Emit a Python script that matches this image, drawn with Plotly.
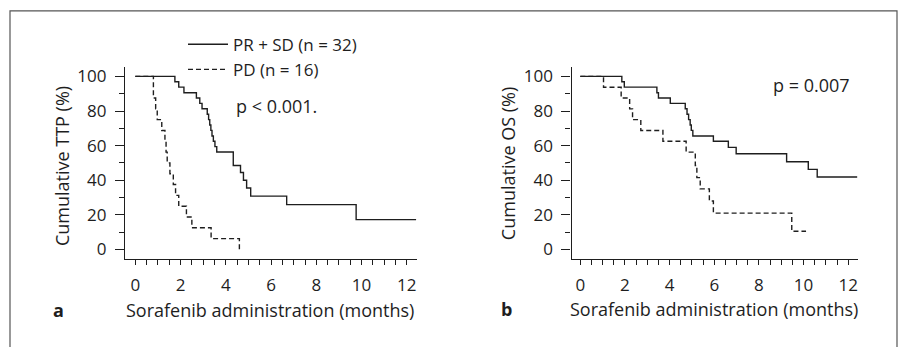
import plotly.graph_objects as go

# ---------------- data ----------------
# Panel a: cumulative time to progression (%)
ttp_prsd_t = [0, 1.75, 1.92, 2.15, 2.70, 2.85, 2.95, 3.18, 3.24, 3.29, 3.34, 3.39, 3.45,
              3.52, 3.60, 4.33, 4.65, 4.78, 4.92, 5.10, 6.69, 9.76, 12.41]
ttp_prsd_s = [100, 96.9, 93.8, 90.6, 87.5, 84.4, 81.3, 78.1, 75.0, 71.9, 68.8, 65.6, 62.5,
              59.4, 56.3, 48.5, 44.5, 40.0, 35.5, 30.8, 25.9, 17.2, 17.2]
ttp_pd_t = [0, 0.80, 0.90, 0.97, 1.17, 1.31, 1.36, 1.41, 1.53, 1.68, 1.78, 1.92, 2.26,
            2.50, 3.35, 4.60]
ttp_pd_s = [100, 87.5, 81.25, 75, 68.75, 62.5, 56.25, 50, 43.75, 37.5, 31.25, 25, 18.75,
            12.5, 6.25, 0]

# Panel b: cumulative overall survival (%)
os_prsd_t = [0, 1.86, 1.97, 3.43, 3.50, 4.03, 4.70, 4.78, 4.85, 4.92, 4.97, 5.04, 5.96,
             6.63, 6.98, 9.24, 10.21, 10.61, 12.40]
os_prsd_s = [100, 96.9, 93.8, 90.6, 87.5, 84.4, 81.3, 78.1, 75.0, 71.9, 68.8, 65.6, 62.5,
             59.0, 55.3, 50.7, 46.3, 41.9, 41.9]
os_pd_t = [0, 1.04, 1.83, 2.21, 2.34, 2.71, 3.70, 4.74, 5.15, 5.22, 5.37, 5.78, 5.96,
           9.47, 10.11]
os_pd_s = [100, 93.75, 87.5, 81.25, 75, 68.75, 62.5, 56.25, 48.5, 41.5, 35, 28, 21,
           10.5, 10.5]

series_names = ["PR + SD (n = 32)", "PD (n = 16)"]
y_titles = ["Cumulative TTP (%)", "Cumulative OS (%)"]
x_title = "Sorafenib administration (months)"
panel_labels = ["a", "b"]
p_texts = ["p < 0.001.", "p = 0.007"]
x_ticks = [0, 2, 4, 6, 8, 10, 12]
y_ticks = [0, 20, 40, 60, 80, 100]

# ---------------- style ----------------
W, H = 905, 347
INK = "#1e1e1e"
FONT = "Open Sans"
FS_TICK = 17
FS = 18

def px_x(p):
    return p / W

def px_y(p):
    return 1 - p / H

fig = go.Figure()

solid = dict(color=INK, width=1.4, shape="hv")
dashed = dict(color=INK, width=1.4, shape="hv", dash="5px,3px")

fig.add_trace(go.Scatter(x=ttp_prsd_t, y=ttp_prsd_s, mode="lines", line=solid,
                         name=series_names[0], xaxis="x", yaxis="y"))
fig.add_trace(go.Scatter(x=ttp_pd_t, y=ttp_pd_s, mode="lines", line=dashed,
                         name=series_names[1], xaxis="x", yaxis="y"))
fig.add_trace(go.Scatter(x=os_prsd_t, y=os_prsd_s, mode="lines", line=solid,
                         showlegend=False, xaxis="x2", yaxis="y2"))
fig.add_trace(go.Scatter(x=os_pd_t, y=os_pd_s, mode="lines", line=dashed,
                         showlegend=False, xaxis="x2", yaxis="y2"))

ydom = [px_y(259), px_y(65)]

def xaxis(dom, rng):
    return dict(domain=dom, range=rng, showline=True, linecolor=INK, linewidth=1.3,
                ticks="outside", ticklen=5, tickwidth=1.2, tickcolor=INK,
                tickvals=x_ticks, showgrid=False, zeroline=False, ticklabelstandoff=5,
                minor=dict(dtick=0.5, tick0=0, ticks="outside", ticklen=5,
                           tickwidth=1.2, tickcolor=INK, showgrid=False),
                tickfont=dict(family=FONT, size=FS_TICK, color=INK), fixedrange=True)

def yaxis(anchor, rng):
    return dict(domain=ydom, range=rng, anchor=anchor, showline=True, linecolor=INK,
                linewidth=1.3, ticks="outside", ticklen=9, tickwidth=1.2, tickcolor=INK,
                tickvals=y_ticks, showgrid=False, zeroline=False, ticklabelstandoff=5,
                minor=dict(dtick=10, tick0=0, ticks="outside", ticklen=5,
                           tickwidth=1.2, tickcolor=INK, showgrid=False),
                tickfont=dict(family=FONT, size=FS_TICK, color=INK), fixedrange=True)

fig.update_layout(
    width=W, height=H, margin=dict(l=0, r=0, t=0, b=0),
    paper_bgcolor="white", plot_bgcolor="white",
    font=dict(family=FONT, size=FS, color=INK),
    xaxis=dict(xaxis([px_x(125), px_x(417)], [-0.455, 12.45]), anchor="y"),
    yaxis=yaxis("x", [-5.54, 105.3]),
    xaxis2=dict(xaxis([px_x(571.5), px_x(858.3)], [-0.394, 12.45]), anchor="y2"),
    yaxis2=yaxis("x2", [-5.54, 105.3]),
    showlegend=True,
    legend=dict(x=px_x(183), y=px_y(24), xanchor="left", yanchor="top",
                bgcolor="rgba(0,0,0,0)", borderwidth=0, itemwidth=40,
                font=dict(family=FONT, size=17, color=INK), tracegroupgap=0),
)

def note(text, x, y, xanchor="center", yanchor="middle", angle=0):
    return dict(text=text, x=px_x(x), y=px_y(y), xref="paper", yref="paper",
                xanchor=xanchor, yanchor=yanchor, textangle=angle, showarrow=False,
                font=dict(family=FONT, size=FS, color=INK))

ann = [
    note(y_titles[0], 62, 165, angle=-90),
    note(y_titles[1], 508, 162, angle=-90),
    note(x_title, 270, 311),
    note(x_title, 714, 310),
    note("<b>" + panel_labels[0] + "</b>", 58, 311),
    note("<b>" + panel_labels[1] + "</b>", 507, 310),
    note(p_texts[0], 234, 104, xanchor="left"),
    note(p_texts[1], 771, 83, xanchor="left"),
]
fig.update_layout(annotations=ann)

# figure frame (scanned-page border)
fig.add_shape(type="rect", xref="paper", yref="paper",
              x0=px_x(10), x1=px_x(897), y0=-0.1, y1=px_y(8),
              line=dict(color="#555", width=1.2), fillcolor="rgba(0,0,0,0)", layer="below")

fig.write_html("out.html")
